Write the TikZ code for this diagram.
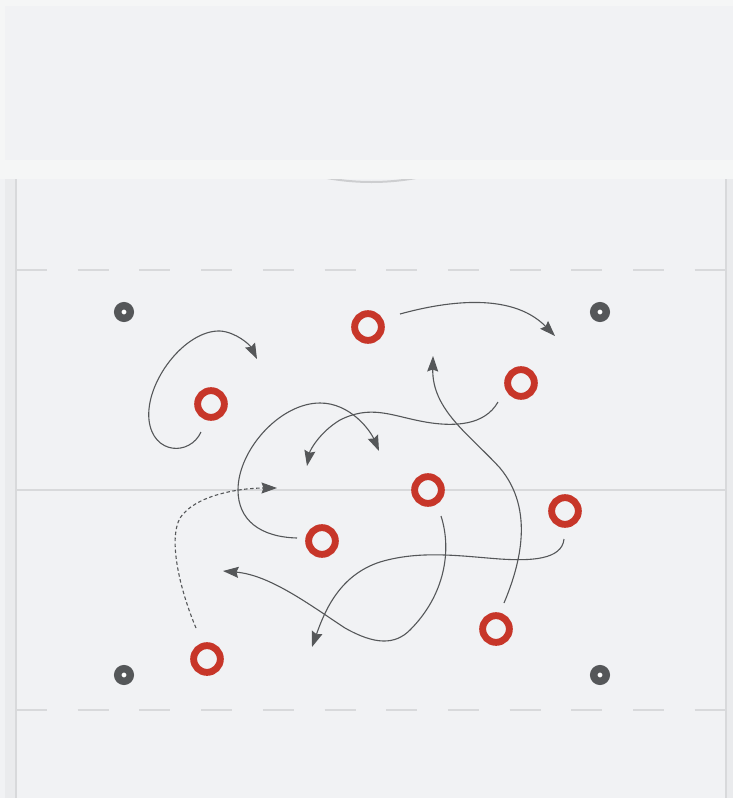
\documentclass[tikz,border=0pt]{standalone}
\usetikzlibrary{arrows.meta}
\definecolor{bg}{HTML}{F1F2F4}
\definecolor{bgl}{HTML}{F5F6F6}
\definecolor{strip}{HTML}{EAEBED}
\definecolor{fline}{HTML}{D8D9DB}
\definecolor{ink}{HTML}{555759}
\definecolor{pred}{HTML}{C73629}
\begin{document}
\begin{tikzpicture}[x=1pt,y=-1pt,
  player/.style={circle,draw=pred,line width=6.9pt,minimum size=26.7pt,inner sep=0pt,fill=bg},
  cone/.style={circle,draw=ink,line width=7.5pt,minimum size=12.5pt,inner sep=0pt,fill=white},
  run/.style={draw=ink,line width=1.1pt,-{Stealth[length=15.5pt,width=11pt,inset=2pt]}},
  pass/.style={run,dash pattern=on 3.5pt off 2.5pt},
  field/.style={draw=fline,line width=2pt}]
\useasboundingbox (0,0) rectangle (733,798);
\fill[bgl] (0,0) rectangle (733,798);
\fill[bg] (5,6) rectangle (733,160);
\fill[bg] (0,179) rectangle (733,798);
\fill[strip] (5,179) rectangle (15,798);
\fill[strip] (727,179) rectangle (733,798);
\draw[field] (16,179) -- (16,798);
\draw[field] (726,179) -- (726,798);
\begin{scope}
  \clip (300,179) rectangle (440,200);
  \draw[draw=fline!95!black,line width=2pt] (371.5,-66) circle [radius=248pt];
\end{scope}
\draw[field,dash pattern=on 31pt off 30.7pt] (16,270) -- (726,270);
\draw[field,dash pattern=on 31pt off 30.7pt] (16,710) -- (726,710);
\draw[field] (16,490) -- (726,490);
% cones
\node[cone] (c1) at (124,312) {};
\node[cone] (c2) at (600,312) {};
\node[cone] (c3) at (124,675) {};
\node[cone] (c4) at (600,675) {};
% players
\node[player] (p1) at (211,404) {};
\node[player] (p2) at (368,327) {};
\node[player] (p3) at (521,383) {};
\node[player] (p4) at (428,490) {};
\node[player] (p5) at (565,511) {};
\node[player] (p6) at (322,541) {};
\node[player] (p7) at (496,629) {};
\node[player] (p8) at (207,659) {};
% start points
\coordinate (s1) at (201,432);
\coordinate (s2) at (400,314);
\coordinate (s3) at (498,402);
\coordinate (s4) at (441,516);
\coordinate (s5) at (564,539);
\coordinate (s6) at (297,538);
\coordinate (s7) at (504,603);
\coordinate (s8) at (196,628);
% end points
\coordinate (e1) at (257,359);
\coordinate (e2) at (555,336);
\coordinate (e3) at (307,466);
\coordinate (e4) at (223,571);
\coordinate (e5) at (312,647);
\coordinate (e6) at (379,451);
\coordinate (e7) at (433,356);
\coordinate (e8) at (277,488);
% runs
\draw[run] (s1) .. controls (190,456) and (153,455) .. (149,420)
  .. controls (145,382) and (185,330) .. (220,331)
  .. controls (236,332) and (250,345) .. (e1);
\draw[run] (s2) .. controls (440,303) and (510,290) .. (e2);
\draw[run] (s3) .. controls (485,425) and (455,428) .. (420,421)
  .. controls (390,415) and (370,405) .. (340,420)
  .. controls (320,432) and (310,450) .. (e3);
\draw[run] (s6) .. controls (260,537) and (238,520) .. (238,490)
  .. controls (238,450) and (280,403) .. (320,403)
  .. controls (350,403) and (370,430) .. (e6);
\draw[pass] (s8) .. controls (180,590) and (168,540) .. (180,518)
  .. controls (195,495) and (240,488) .. (e8);
\draw[run] (s5) .. controls (562,560) and (530,561) .. (500,559)
  .. controls (460,556) and (420,550) .. (380,562)
  .. controls (340,575) and (325,610) .. (e5);
\draw[run] (s4) .. controls (452,550) and (445,595) .. (410,630)
  .. controls (395,645) and (375,645) .. (345,628)
  .. controls (310,605) and (270,575) .. (e4);
\draw[run] (s7) .. controls (520,565) and (535,510) .. (500,468)
  .. controls (470,435) and (432,410) .. (e7);
\end{tikzpicture}
\end{document}
